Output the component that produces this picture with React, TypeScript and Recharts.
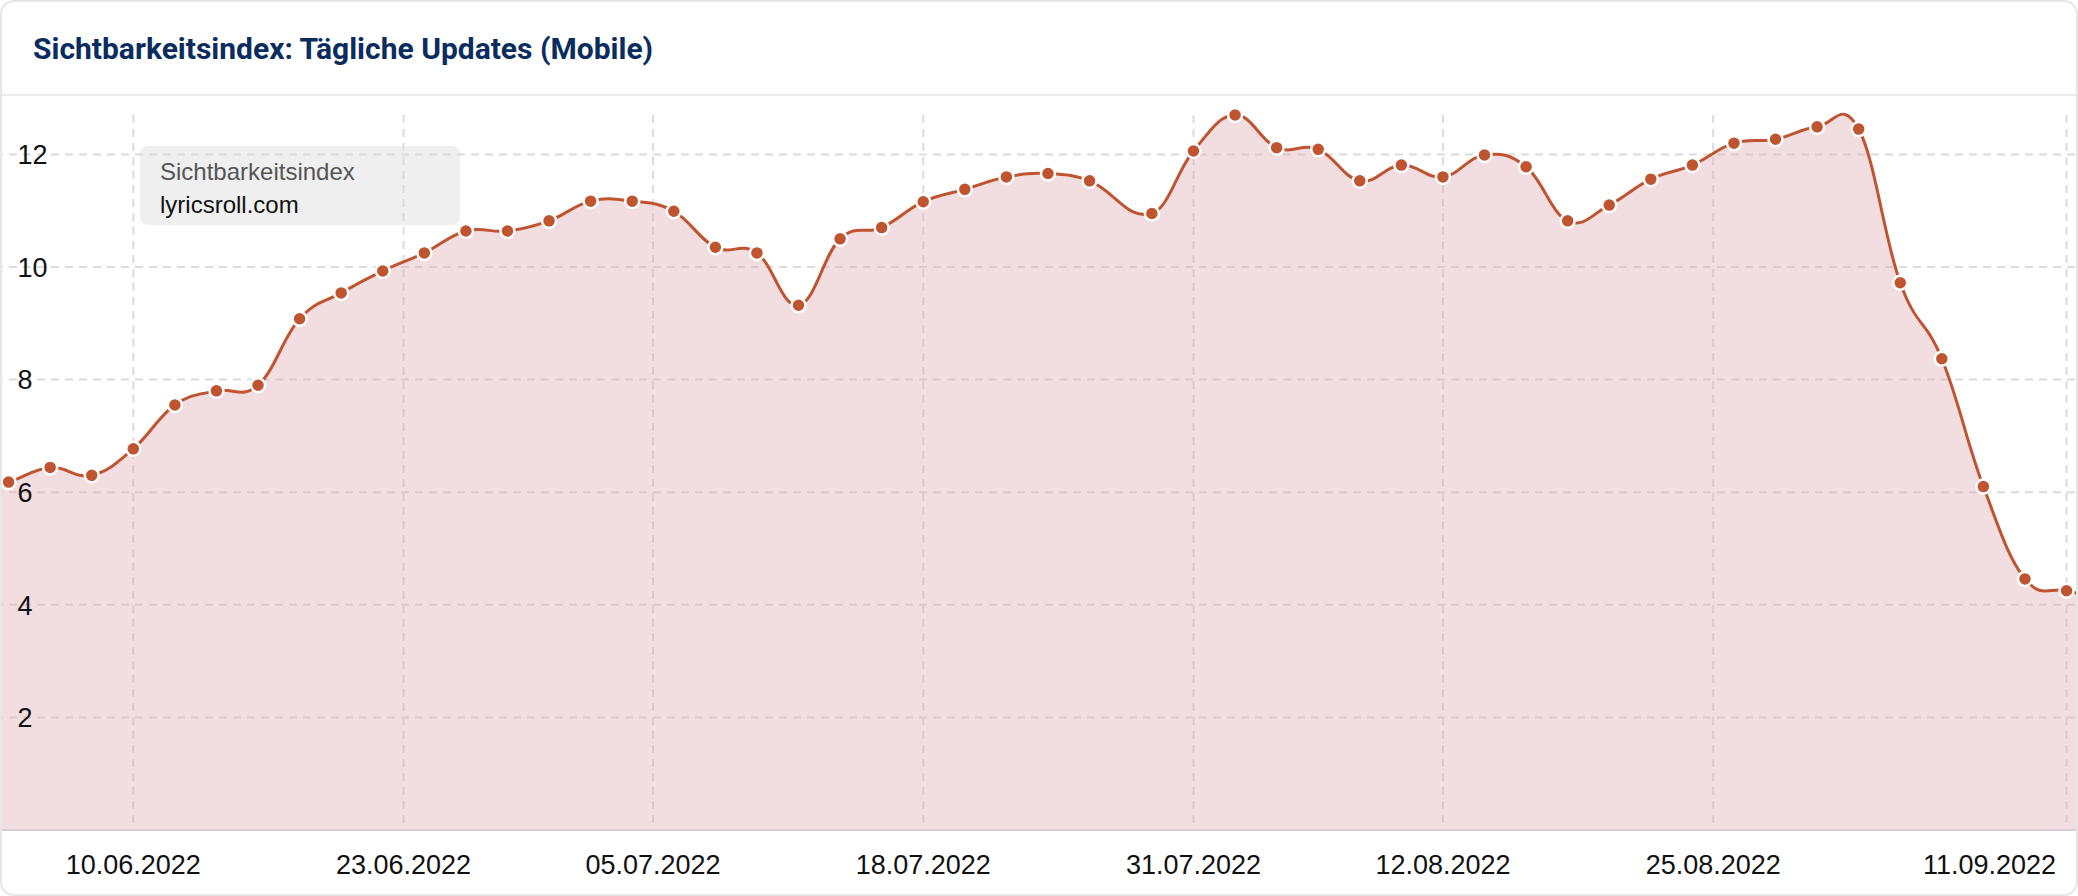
import { AreaChart, Area, XAxis, YAxis, CartesianGrid } from 'recharts';

// visibility index, one value every 2nd day; first and last entry sit just outside the card
const dates = [
  '02.06.2022', '04.06.2022', '06.06.2022', '08.06.2022', '10.06.2022', '12.06.2022', '14.06.2022',
  '16.06.2022', '18.06.2022', '20.06.2022', '22.06.2022', '24.06.2022', '26.06.2022', '28.06.2022',
  '30.06.2022', '02.07.2022', '04.07.2022', '06.07.2022', '08.07.2022', '10.07.2022', '12.07.2022',
  '14.07.2022', '16.07.2022', '18.07.2022', '20.07.2022', '22.07.2022', '24.07.2022', '26.07.2022',
  '29.07.2022', '31.07.2022', '02.08.2022', '04.08.2022', '06.08.2022', '08.08.2022', '10.08.2022',
  '12.08.2022', '14.08.2022', '16.08.2022', '18.08.2022', '20.08.2022', '22.08.2022', '24.08.2022',
  '26.08.2022', '28.08.2022', '30.08.2022', '01.09.2022', '03.09.2022', '05.09.2022', '07.09.2022',
  '09.09.2022', '11.09.2022', '13.09.2022',
];

const values = [
  6.0, 6.18, 6.44, 6.3, 6.77, 7.55, 7.8,
  7.9, 9.08, 9.54, 9.93, 10.25, 10.64, 10.64,
  10.82, 11.17, 11.17, 10.99, 10.35, 10.25, 9.32,
  10.5, 10.7, 11.16, 11.38, 11.6, 11.66, 11.53,
  10.95, 12.06, 12.7, 12.12, 12.09, 11.53, 11.81,
  11.6, 11.99, 11.78, 10.82, 11.1, 11.56, 11.81,
  12.2, 12.27, 12.49, 12.45, 9.72, 8.37, 6.1,
  4.46, 4.25, 4.1,
];

const tickLabels = [
  '10.06.2022', '23.06.2022', '05.07.2022', '18.07.2022',
  '31.07.2022', '12.08.2022', '25.08.2022', '11.09.2022',
];

const yTicks = [2, 4, 6, 8, 10, 12];

const DAY = 24 * 3600 * 1000;

function parseDate(s: string): number {
  const [d, m, y] = s.split('.').map(Number);
  return Date.UTC(y, m - 1, d);
}

function formatDate(t: number): string {
  const d = new Date(t);
  const dd = String(d.getUTCDate()).padStart(2, '0');
  const mm = String(d.getUTCMonth() + 1).padStart(2, '0');
  return `${dd}.${mm}.${d.getUTCFullYear()}`;
}

const data = dates.map((s, i) => ({ t: parseDate(s), v: values[i] }));
const xTicks = tickLabels.map(parseDate);

// layout: 04.06 sits at x=9, 11.09 at x=2067 inside the card; the chart is wider and gets cropped
const W = 2078;
const H = 896;
const FIRST_X = 9;
const LAST_X = 2067;
const tFirst = parseDate('04.06.2022');
const tLast = parseDate('11.09.2022');
const pxPerDay = (LAST_X - FIRST_X) / ((tLast - tFirst) / DAY);
const chartLeft = FIRST_X - ((tFirst - data[0].t) / DAY) * pxPerDay;
const chartWidth = ((data[data.length - 1].t - data[0].t) / DAY) * pxPerDay;

const LINE = '#bf5431';
const FONT = '"Liberation Sans", Arial, Helvetica, sans-serif';

// Highcharts-style spline (smoothing 1.5), used as a custom d3 curve factory
function hcSpline(context: any) {
  let xs: number[] = [];
  let ys: number[] = [];
  let line = NaN;
  return {
    areaStart() { line = 0; },
    areaEnd() { line = NaN; },
    lineStart() { xs = []; ys = []; },
    point(x: number, y: number) { xs.push(+x); ys.push(+y); },
    lineEnd() {
      const n = xs.length;
      if (n) {
        if (line) context.lineTo(xs[0], ys[0]);
        else context.moveTo(xs[0], ys[0]);
        const lc: number[][] = [];
        const rc: number[][] = [];
        for (let i = 0; i < n; i++) {
          if (i > 0 && i < n - 1) {
            const sm = 1.5, den = sm + 1;
            let lx = (sm * xs[i] + xs[i - 1]) / den, ly = (sm * ys[i] + ys[i - 1]) / den;
            let rx = (sm * xs[i] + xs[i + 1]) / den, ry = (sm * ys[i] + ys[i + 1]) / den;
            if (rx !== lx) {
              const corr = ((ry - ly) * (rx - xs[i])) / (rx - lx) + ys[i] - ry;
              ly += corr;
              ry += corr;
            }
            lc[i] = [lx, ly];
            rc[i] = [rx, ry];
          } else {
            lc[i] = [xs[i], ys[i]];
            rc[i] = [xs[i], ys[i]];
          }
        }
        for (let i = 1; i < n; i++) {
          context.bezierCurveTo(rc[i - 1][0], rc[i - 1][1], lc[i][0], lc[i][1], xs[i], ys[i]);
        }
      }
      if (line || (line !== 0 && n === 1)) context.closePath();
      line = 1 - line;
    },
  };
}

const YTick = (props: any) => (
  <text x={18 - chartLeft} y={props.y} dy="0.36em" textAnchor="start" fontSize={27} fill="#111" fontFamily={FONT}>
    {props.payload.value}
  </text>
);

const XTick = (props: any) => {
  const last = props.payload.value === xTicks[xTicks.length - 1];
  return (
    <text
      x={props.x}
      y={props.y}
      dy="0.71em"
      textAnchor={last ? 'end' : 'middle'}
      fontSize={27}
      fill="#111"
      fontFamily={FONT}
    >
      {formatDate(props.payload.value)}
    </text>
  );
};

const Marker = (props: any) => (
  <circle key={props.index} cx={props.cx} cy={props.cy} r={7} fill={LINE} stroke="#fff" strokeWidth={2.5} />
);

export default function App() {
  return (
    <div style={{ position: 'relative', width: W, height: H, background: '#fff', overflow: 'hidden' }}>
      <style>{'body{margin:0}'}</style>
      <svg width={W} height={95} style={{ position: 'absolute', left: 0, top: 0 }}>
        <text x={33} y={59} fontFamily="Roboto, sans-serif" fontWeight={700} fontSize={30} fill="#0b2c5f">
          Sichtbarkeitsindex: Tägliche Updates (Mobile)
        </text>
      </svg>
      <div style={{ position: 'absolute', left: 0, top: 94, width: W, height: 2, background: '#ececec' }} />
      <div style={{ position: 'absolute', left: chartLeft, top: 96 }}>
        <AreaChart width={chartWidth} height={800} data={data} margin={{ top: 19, right: 0, left: 0, bottom: 0 }}>
          <CartesianGrid stroke="#dcdcdc" strokeWidth={2} strokeDasharray="8 6" syncWithTicks />
          <XAxis
            dataKey="t"
            type="number"
            domain={['dataMin', 'dataMax']}
            ticks={xTicks}
            tick={XTick}
            tickLine={false}
            tickMargin={19}
            axisLine={{ stroke: '#dccbcf', strokeWidth: 2 }}
            height={66}
          />
          <YAxis
            domain={[0, 'dataMax']}
            ticks={yTicks}
            tick={YTick}
            axisLine={false}
            tickLine={false}
            mirror
            width={60}
          />
          <Area
            type={hcSpline as any}
            dataKey="v"
            stroke={LINE}
            strokeWidth={3}
            fill="rgb(222,170,180)"
            fillOpacity={0.4}
            dot={Marker}
            activeDot={false}
            isAnimationActive={false}
          />
        </AreaChart>
      </div>
      <div
        style={{
          position: 'absolute',
          left: 140,
          top: 146,
          width: 320,
          height: 79,
          borderRadius: 8,
          background: 'rgba(220,220,220,0.45)',
          fontFamily: FONT,
          fontSize: 24,
        }}
      >
        <div style={{ position: 'absolute', left: 20, top: 12, lineHeight: '28px', color: '#555' }}>
          Sichtbarkeitsindex
        </div>
        <div style={{ position: 'absolute', left: 20, top: 45, lineHeight: '28px', color: '#111' }}>
          lyricsroll.com
        </div>
      </div>
      <div
        style={{
          position: 'absolute',
          inset: 0,
          border: '2px solid #e6e6e6',
          borderRadius: 14,
          pointerEvents: 'none',
        }}
      />
    </div>
  );
}
